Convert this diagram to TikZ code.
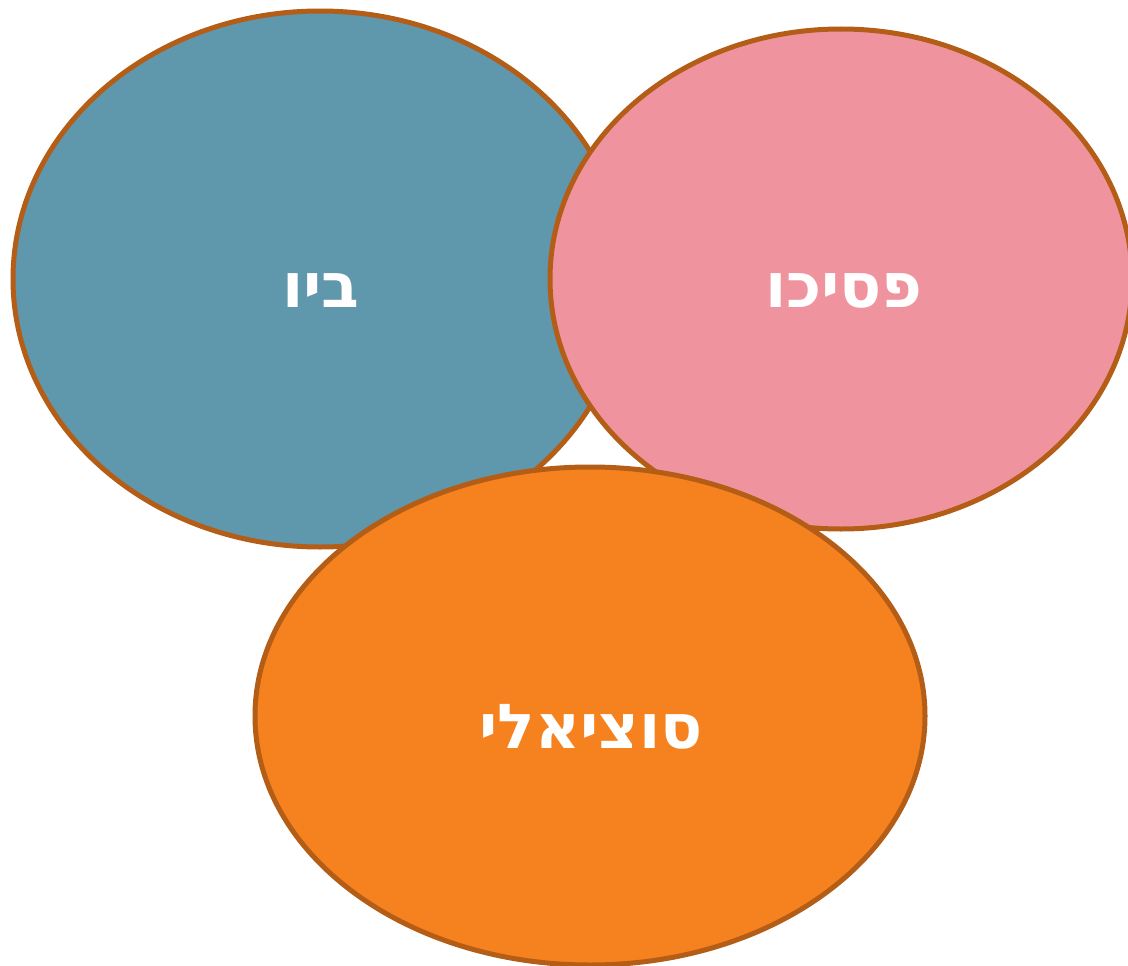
\documentclass[tikz,border=0pt]{standalone}
\usepackage{fontspec}
\setmainfont{Liberation Sans}
\newfontfamily\hebfont[Script=Hebrew]{DejaVu Sans}
\TeXXeTstate=1
\definecolor{cblue}{HTML}{5F97AD}
\definecolor{cpink}{HTML}{EF949E}
\definecolor{corange}{HTML}{F5821F}
\definecolor{cedge}{HTML}{B45D17}
\begin{document}
\begin{tikzpicture}[x=1pt,y=-1pt,
  blob/.style={draw=cedge,line width=5pt},
  lbl/.style={text=white,font=\hebfont\bfseries\fontsize{62}{64}\selectfont,inner sep=0pt,anchor=base}]
\useasboundingbox (0,0) rectangle (1128,966);
\filldraw[blob,fill=cblue] (320,279) ellipse [x radius=307, y radius=268];
\filldraw[blob,fill=cpink] (841,279) ellipse [x radius=291, y radius=250];
\filldraw[blob,fill=corange] (590,716) ellipse [x radius=335, y radius=249];
\node[lbl] (bio) at (321,307) {\beginR ביו\endR};
\node[lbl] (psycho) at (844,307) {\beginR פסיכו\endR};
\node[lbl] (socio) at (591,748) {\beginR סוציאלי\endR};
\end{tikzpicture}
\end{document}
